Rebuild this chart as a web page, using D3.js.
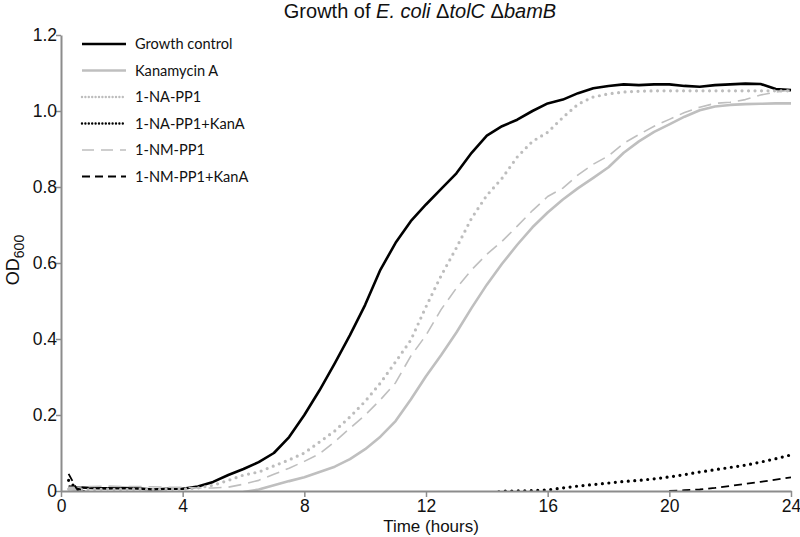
<!DOCTYPE html>
<html>
<head>
<meta charset="utf-8">
<script src="https://cdn.jsdelivr.net/npm/d3@7"></script>
<style>
  html, body { margin: 0; padding: 0; background: #fff; }
  svg { display: block; }
</style>
</head>
<body>
<svg id="chart" width="800" height="537"></svg>
<script>
// ---- data ----
const times = [0.25, 0.5, 1, 1.5, 2, 2.5, 3, 3.5, 4, 4.5, 5, 5.5, 6, 6.5, 7, 7.5, 8, 8.5, 9, 9.5, 10,
  10.5, 11, 11.5, 12, 12.5, 13, 13.5, 14, 14.5, 15, 15.5, 16, 16.5, 17, 17.5, 18, 18.5, 19, 19.5, 20,
  20.5, 21, 21.5, 22, 22.5, 23, 23.5, 24];

const growthControl = [0.012, 0.010, 0.008, 0.007, 0.008, 0.007, 0.004, 0.006, 0.006, 0.012, 0.024, 0.042, 0.058, 0.076, 0.100, 0.142, 0.200, 0.265, 0.336, 0.410, 0.490,
  0.582, 0.653, 0.710, 0.754, 0.795, 0.836, 0.890, 0.935, 0.960, 0.977, 1.000, 1.020, 1.030, 1.047, 1.060, 1.066, 1.070, 1.068, 1.070, 1.070,
  1.066, 1.064, 1.068, 1.070, 1.072, 1.071, 1.058, 1.055];

const kanamycinA = [0.005, 0.003, -0.005, -0.005, -0.005, -0.005, -0.005, -0.005, -0.005, -0.005, -0.005, -0.005, -0.003, 0.004, 0.015, 0.026, 0.036, 0.050, 0.064, 0.084, 0.110,
  0.143, 0.184, 0.241, 0.302, 0.358, 0.417, 0.482, 0.543, 0.598, 0.648, 0.694, 0.733, 0.767, 0.797, 0.824, 0.852, 0.890, 0.920, 0.945, 0.965,
  0.985, 1.002, 1.012, 1.016, 1.018, 1.019, 1.020, 1.020];

const naPP1 = [0.005, 0.004, 0.004, 0.005, 0.004, 0.005, 0.004, 0.005, 0.005, 0.008, 0.015, 0.028, 0.042, 0.050, 0.066, 0.082, 0.100, 0.129, 0.158, 0.195, 0.236,
  0.284, 0.340, 0.397, 0.485, 0.567, 0.640, 0.718, 0.778, 0.823, 0.879, 0.920, 0.944, 0.983, 1.018, 1.037, 1.045, 1.050, 1.052, 1.053, 1.053,
  1.053, 1.053, 1.053, 1.053, 1.053, 1.053, 1.053, 1.053];

const naPP1KanA = [0.028, 0.006, -0.010, -0.010, -0.010, -0.010, -0.010, -0.010, -0.010, -0.010, -0.010, -0.010, -0.010, -0.010, -0.010, -0.010, -0.010, -0.010, -0.010, -0.010, -0.010,
  -0.010, -0.010, -0.010, -0.010, -0.010, -0.010, -0.010, -0.010, 0.000, 0.000, 0.001, 0.003, 0.008, 0.013, 0.017, 0.021, 0.025, 0.028, 0.032, 0.037,
  0.043, 0.050, 0.056, 0.062, 0.068, 0.076, 0.085, 0.095];

const nmPP1 = [0.010, 0.010, 0.012, 0.013, 0.012, 0.012, 0.011, 0.010, 0.010, 0.008, 0.008, 0.010, 0.018, 0.028, 0.044, 0.060, 0.078, 0.098, 0.130, 0.165, 0.200,
  0.240, 0.285, 0.355, 0.410, 0.478, 0.534, 0.582, 0.623, 0.657, 0.697, 0.738, 0.775, 0.797, 0.832, 0.860, 0.882, 0.915, 0.938, 0.960, 0.978,
  0.996, 1.010, 1.020, 1.023, 1.030, 1.042, 1.050, 1.055];

const nmPP1KanA = [0.045, 0.008, -0.010, -0.010, -0.010, -0.010, -0.010, -0.010, -0.010, -0.010, -0.010, -0.010, -0.010, -0.010, -0.010, -0.010, -0.010, -0.010, -0.010, -0.010, -0.010,
  -0.010, -0.010, -0.010, -0.010, -0.010, -0.010, -0.010, -0.010, -0.010, -0.010, -0.010, -0.010, -0.010, -0.010, -0.010, -0.010, -0.010, -0.010, -0.010, 0.000,
  0.002, 0.004, 0.008, 0.013, 0.019, 0.024, 0.030, 0.036];

const seriesNames = ["Growth control", "Kanamycin A", "1-NA-PP1", "1-NA-PP1+KanA", "1-NM-PP1", "1-NM-PP1+KanA"];
const seriesValues = [growthControl, kanamycinA, naPP1, naPP1KanA, nmPP1, nmPP1KanA];

const xTicks = [0, 4, 8, 12, 16, 20, 24];
const yTicks = [0, 0.2, 0.4, 0.6, 0.8, 1.0, 1.2];
const yTickLabels = ["0", "0.2", "0.4", "0.6", "0.8", "1.0", "1.2"];

// ---- styles (not data) ----
const styles = [
  { color: "#000000", width: 2.6, dash: null, cap: "butt", legendDash: null },
  { color: "#bfbfbf", width: 2.6, dash: null, cap: "butt", legendDash: null },
  { color: "#bdbdbd", width: 3.2, dash: "0,6.5", cap: "round", legendDash: "0,3.4" },
  { color: "#000000", width: 3.2, dash: "0,6.5", cap: "round", legendDash: "0,3.4" },
  { color: "#bfbfbf", width: 1.6, dash: "13,7", cap: "butt", legendDash: "12,7" },
  { color: "#000000", width: 1.8, dash: "8,5", cap: "butt", legendDash: "8,5" }
];

const svg = d3.select("#chart");
const x = d3.scaleLinear().domain([0, 24]).range([61, 791]);
const y = d3.scaleLinear().domain([0, 1.2]).range([491, 35]);

const axisColor = "#8c8c8c";
const fontMain = "'Liberation Sans', Arial, Helvetica, sans-serif";

// clip
svg.append("defs").append("clipPath").attr("id", "plotclip")
  .append("rect").attr("x", 55).attr("y", 0).attr("width", 745).attr("height", 492);

// title
const title = svg.append("text")
  .attr("x", 420).attr("y", 18)
  .attr("text-anchor", "middle")
  .attr("font-family", fontMain)
  .attr("font-size", 20)
  .attr("fill", "#111");
title.append("tspan").text("Growth of ");
title.append("tspan").attr("font-style", "italic").text("E. coli");
title.append("tspan").text(" \u0394");
title.append("tspan").attr("font-style", "italic").text("tolC");
title.append("tspan").text(" \u0394");
title.append("tspan").attr("font-style", "italic").text("bamB");

// lines
const line = d3.line()
  .x((d, i) => x(times[i]))
  .y(d => y(d));

const plot = svg.append("g").attr("clip-path", "url(#plotclip)");
seriesValues.forEach((vals, k) => {
  const st = styles[k];
  const p = plot.append("path")
    .datum(vals)
    .attr("d", line)
    .attr("fill", "none")
    .attr("stroke", st.color)
    .attr("stroke-width", st.width)
    .attr("stroke-linecap", st.cap)
    .attr("stroke-linejoin", "round");
  if (st.dash) p.attr("stroke-dasharray", st.dash);
});

// axes
const xAxis = d3.axisBottom(x).tickValues(xTicks).tickSize(6).tickSizeOuter(0).tickFormat(d3.format("d"));
const yAxis = d3.axisLeft(y).tickValues(yTicks).tickSize(5).tickSizeOuter(0)
  .tickFormat((d, i) => yTickLabels[i]);

const gx = svg.append("g").attr("transform", `translate(0,${y(0)})`).call(xAxis);
const gy = svg.append("g").attr("transform", `translate(${x(0)},0)`).call(yAxis);

[gx, gy].forEach(g => {
  g.select(".domain").attr("stroke", axisColor).attr("stroke-width", 2);
  g.selectAll(".tick line").attr("stroke", axisColor).attr("stroke-width", 1.5);
  g.selectAll(".tick text")
    .attr("font-family", fontMain)
    .attr("font-size", 17.5)
    .attr("fill", "#111");
});
gx.selectAll(".tick text").attr("dy", "0.8em").attr("y", 7);
gy.selectAll(".tick text").attr("x", -4);

// axis titles
svg.append("text")
  .attr("x", 431).attr("y", 532)
  .attr("text-anchor", "middle")
  .attr("font-family", fontMain)
  .attr("font-size", 17)
  .attr("fill", "#111")
  .text("Time (hours)");

const yl = svg.append("text")
  .attr("transform", "translate(19,260) rotate(-90)")
  .attr("text-anchor", "middle")
  .attr("font-family", fontMain)
  .attr("font-size", 18)
  .attr("fill", "#111");
yl.append("tspan").text("OD");
yl.append("tspan").attr("font-size", 14).attr("dy", 5).text("600");

// legend
const legend = svg.append("g");
const legY0 = 44, legStep = 26.5;
seriesNames.forEach((name, k) => {
  const st = styles[k];
  const yy = legY0 + k * legStep;
  const l = legend.append("line")
    .attr("x1", 82).attr("x2", 126).attr("y1", yy).attr("y2", yy)
    .attr("stroke", st.color)
    .attr("stroke-width", st.cap === "round" ? 2.4 : st.width)
    .attr("stroke-linecap", st.cap);
  if (st.legendDash) l.attr("stroke-dasharray", st.legendDash);
  legend.append("text")
    .attr("x", 135).attr("y", yy + 5)
    .attr("font-family", "Lato, 'Open Sans', sans-serif")
    .attr("font-size", 14.6)
    .attr("fill", "#111")
    .text(name);
});
</script>
</body>
</html>
